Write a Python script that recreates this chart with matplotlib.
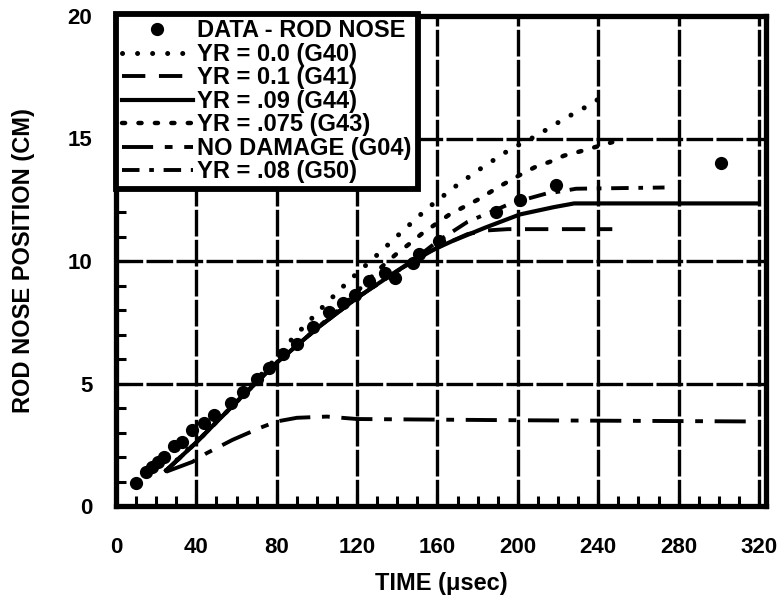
import matplotlib

matplotlib.use("Agg")
import matplotlib.pyplot as plt
from matplotlib.ticker import MultipleLocator

plt.rcParams["font.family"] = ["Liberation Sans", "DejaVu Sans"]
plt.rcParams["font.weight"] = "bold"

# measured rod nose position (cm) vs time (usec)
data_t = [10, 15, 18, 21, 24, 29, 33, 38, 44, 49, 57, 63, 70, 76, 83, 90, 98, 106,
          113, 119, 126, 134, 139, 148, 151, 161, 189, 201, 219, 301]
data_y = [0.93, 1.4, 1.6, 1.8, 2.0, 2.45, 2.6, 3.1, 3.4, 3.7, 4.2, 4.65, 5.2, 5.65,
          6.2, 6.6, 7.3, 7.9, 8.3, 8.6, 9.2, 9.5, 9.3, 9.9, 10.3, 10.8, 12.0, 12.5,
          13.1, 14.0]

# calculations
g40_t = [25, 40, 60, 75, 88, 102, 116, 130, 143, 155, 169, 182, 196, 209, 223, 233, 242]
g40_y = [1.45, 2.65, 4.3, 5.6, 6.85, 8.05, 9.2, 10.25, 11.25, 12.15, 13.05, 13.8,
         14.55, 15.1, 15.8, 16.25, 16.7]

g41_t = [25, 40, 60, 80, 100, 120, 140, 160, 175, 185, 195, 247]
g41_y = [1.45, 2.6, 4.25, 5.85, 7.25, 8.5, 9.6, 10.55, 11.1, 11.25, 11.3, 11.3]

g44_t = [25, 40, 60, 80, 100, 120, 140, 151, 167, 184, 201, 218, 228, 320]
g44_y = [1.45, 2.6, 4.25, 5.85, 7.25, 8.5, 9.6, 10.2, 10.8, 11.37, 11.9, 12.2, 12.35, 12.35]

g43_t = [25, 40, 60, 80, 100, 110, 120, 130, 139, 146, 152, 159, 166, 173, 180, 186,
         191, 203, 209, 216, 223, 230, 247]
g43_y = [1.45, 2.6, 4.25, 5.85, 7.25, 7.95, 8.75, 9.6, 10.25, 10.7, 11.1, 11.5, 11.9,
         12.2, 12.5, 12.8, 13.05, 13.6, 13.85, 14.05, 14.3, 14.45, 14.85]

g04_t = [25, 38, 45, 58, 72, 80, 90, 105, 120, 200, 318]
g04_y = [1.4, 1.8, 2.15, 2.7, 3.2, 3.45, 3.6, 3.65, 3.55, 3.5, 3.45]

g50_t = [25, 40, 60, 80, 100, 120, 145, 160, 175, 188, 195, 203, 214, 222, 229, 273]
g50_y = [1.45, 2.6, 4.25, 5.85, 7.25, 8.5, 9.85, 10.8, 11.6, 12.05, 12.3, 12.5,
         12.75, 12.85, 12.95, 13.0]

x_ticks = [0, 40, 80, 120, 160, 200, 240, 280, 320]
y_ticks = [0, 5, 10, 15, 20]

fig = plt.figure(figsize=(7.79, 6.01), dpi=100)
ax = fig.add_axes([116 / 779, 95 / 601, 650 / 779, 490 / 601])

ax.set_xlim(0, 323.5)
ax.set_ylim(0, 20)
ax.set_xticks(x_ticks)
ax.set_yticks(y_ticks)
ax.xaxis.set_minor_locator(MultipleLocator(10))
ax.yaxis.set_minor_locator(MultipleLocator(1))
ax.tick_params(which="major", direction="in", length=9, width=2.2, labelsize=16)
ax.tick_params(which="minor", direction="in", length=7, width=2.2)
ax.tick_params(axis="x", which="major", pad=22)
ax.tick_params(axis="y", which="major", pad=17)
for lab in ax.get_xticklabels() + ax.get_yticklabels():
    lab.set_fontweight("bold")
ax.grid(True, which="major", color="black", lw=2.4, ls=(0, (8, 1)))
ax.set_axisbelow(True)
for sp in ax.spines.values():
    sp.set_linewidth(3.8)

ax.plot(g40_t, g40_y, color="black", lw=3.6, ls=(0, (0.01, 3.0)),
        dash_capstyle="round", label="YR = 0.0 (G40)")
ax.plot(g41_t, g41_y, color="black", lw=2.8, ls=(0, (6, 3.5)), label="YR = 0.1 (G41)")
ax.plot(g44_t, g44_y, color="black", lw=3.0, ls="-", label="YR = .09 (G44)")
ax.plot(g43_t, g43_y, color="black", lw=3.2, ls=(0, (0.7, 3.0)),
        dash_capstyle="round", label="YR = .075 (G43)")
ax.plot(g04_t, g04_y, color="black", lw=2.8, ls=(0, (8, 3, 2, 3)), label="NO DAMAGE (G04)")
ax.plot(g50_t, g50_y, color="black", lw=2.8, ls=(0, (4.5, 2.5, 1.2, 2.5)),
        label="YR = .08 (G50)")
ax.plot(data_t, data_y, ls="none", marker="o", ms=8.5, color="black", zorder=5,
        label="DATA - ROD NOSE")

handles, labels = ax.get_legend_handles_labels()
order = [6, 0, 1, 2, 3, 4, 5]
leg = ax.legend([handles[i] for i in order], [labels[i] for i in order],
                loc="upper left", bbox_to_anchor=(0, 1.005), borderaxespad=0,
                prop={"size": 17, "weight": "bold"}, handlelength=3.0,
                handletextpad=0.2, labelspacing=0.02, borderpad=0.25,
                fancybox=False, framealpha=1, edgecolor="black")
leg.get_frame().set_linewidth(4.2)

ax.set_xlabel("TIME (\u03bcsec)", fontsize=17, fontweight="bold")
ax.set_ylabel("ROD NOSE POSITION (CM)", fontsize=17, fontweight="bold")
ax.xaxis.set_label_coords(0.5, -0.135)
ax.yaxis.set_label_coords(-0.125, 0.5)

fig.savefig("out.png", dpi=100)
